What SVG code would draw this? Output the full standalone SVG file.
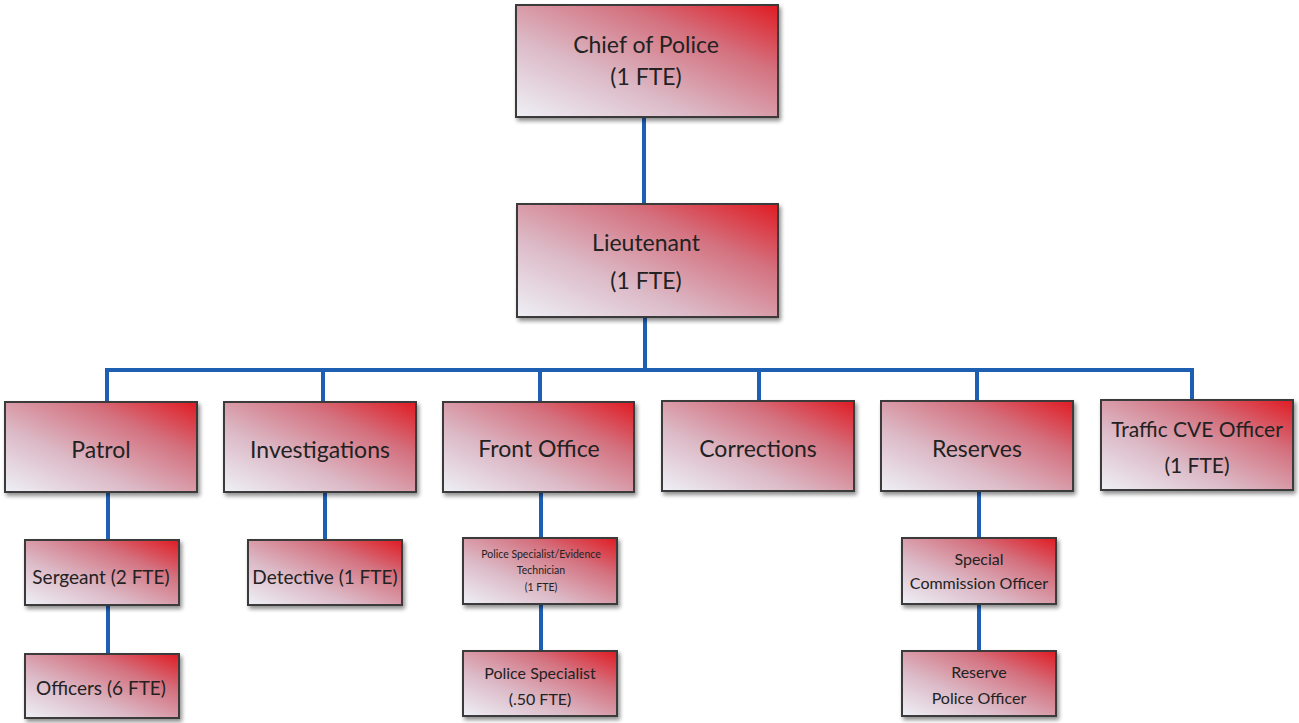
<svg xmlns="http://www.w3.org/2000/svg" width="1299" height="723" viewBox="0 0 1299 723">
  <defs>
    <linearGradient id="boxFill" x1="0" y1="1" x2="1" y2="0">
      <stop offset="0" stop-color="#eef0f6"/>
      <stop offset="0.35" stop-color="#dcbac7"/>
      <stop offset="0.7" stop-color="#d4717f"/>
      <stop offset="1" stop-color="#e01b22"/>
    </linearGradient>
    <filter id="shadow" x="-10%" y="-10%" width="125%" height="130%">
      <feGaussianBlur in="SourceAlpha" stdDeviation="2"/>
      <feOffset dx="2" dy="3" result="b"/>
      <feComponentTransfer><feFuncA type="linear" slope="0.45"/></feComponentTransfer>
      <feMerge><feMergeNode/><feMergeNode in="SourceGraphic"/></feMerge>
    </filter>
  </defs>
  <style>
    .box { fill: url(#boxFill); stroke: #3a3a3a; stroke-width: 2; filter: url(#shadow); }
    .t { font-family: Lato, "Open Sans", "Liberation Sans", sans-serif; fill: #222; text-anchor: middle; }
    .big { font-size: 23px; }
    .wide { font-size: 21px; }
    .mid { font-size: 19px; }
    .sm { font-size: 16px; }
    .tiny { font-size: 10.5px; }
    .link { stroke: #1e5fb4; stroke-width: 4; fill: none; stroke-linecap: square; }
  </style>
  <rect width="1299" height="723" fill="#ffffff"/>

  <!-- reporting lines -->
  <g id="connectors">
    <path class="link" d="M644 117 V204"/>
    <path class="link" d="M645 317 V370"/>
    <path class="link" d="M107 370 H1192"/>
    <path class="link" d="M107 370 V402 M323 370 V402 M540 370 V402 M759 370 V402 M977 370 V402 M1192 370 V400"/>
    <path class="link" d="M108 492 V540 M108 605 V654"/>
    <path class="link" d="M325 492 V540"/>
    <path class="link" d="M541 492 V538 M541 604 V651"/>
    <path class="link" d="M979 492 V538 M979 604 V651"/>
  </g>

  <g id="chief">
    <rect class="box" x="516" y="5" width="262" height="112"/>
    <text class="t big" x="646" y="53">Chief of Police</text>
    <text class="t big" x="646" y="85">(1 FTE)</text>
  </g>
  <g id="lieutenant">
    <rect class="box" x="517" y="204" width="261" height="113"/>
    <text class="t big" x="646" y="251">Lieutenant</text>
    <text class="t big" x="646" y="289">(1 FTE)</text>
  </g>

  <g id="patrol">
    <rect class="box" x="5" y="402" width="192" height="90"/>
    <text class="t big" x="101" y="458">Patrol</text>
  </g>
  <g id="investigations">
    <rect class="box" x="224" y="402" width="192" height="90"/>
    <text class="t big" x="320" y="458">Investigations</text>
  </g>
  <g id="front-office">
    <rect class="box" x="443" y="402" width="191" height="90"/>
    <text class="t big" x="539" y="457">Front Office</text>
  </g>
  <g id="corrections">
    <rect class="box" x="662" y="401" width="192" height="90"/>
    <text class="t big" x="758" y="457">Corrections</text>
  </g>
  <g id="reserves">
    <rect class="box" x="881" y="401" width="192" height="90"/>
    <text class="t big" x="977" y="457">Reserves</text>
  </g>
  <g id="traffic">
    <rect class="box" x="1101" y="400" width="192" height="90"/>
    <text class="t wide" x="1197" y="437">Traffic CVE Officer</text>
    <text class="t wide" x="1197" y="473">(1 FTE)</text>
  </g>

  <g id="sergeant">
    <rect class="box" x="25" y="540" width="154" height="65"/>
    <text class="t mid" x="101" y="584">Sergeant (2 FTE)</text>
  </g>
  <g id="officers">
    <rect class="box" x="25" y="654" width="154" height="64"/>
    <text class="t mid" x="101" y="695">Officers (6 FTE)</text>
  </g>
  <g id="detective">
    <rect class="box" x="248" y="540" width="154" height="65"/>
    <text class="t mid" x="325" y="584">Detective (1 FTE)</text>
  </g>
  <g id="evidence-tech">
    <rect class="box" x="463" y="538" width="154" height="66"/>
    <text class="t tiny" x="541" y="558">Police Specialist/Evidence</text>
    <text class="t tiny" x="541" y="574">Technician</text>
    <text class="t tiny" x="541" y="591">(1 FTE)</text>
  </g>
  <g id="police-specialist">
    <rect class="box" x="463" y="651" width="154" height="65"/>
    <text class="t sm" x="540" y="679">Police Specialist</text>
    <text class="t sm" x="540" y="705">(.50 FTE)</text>
  </g>
  <g id="special-commission">
    <rect class="box" x="902" y="538" width="154" height="66"/>
    <text class="t sm" x="979" y="565">Special</text>
    <text class="t sm" x="979" y="589">Commission Officer</text>
  </g>
  <g id="reserve-officer">
    <rect class="box" x="902" y="651" width="154" height="65"/>
    <text class="t sm" x="979" y="678">Reserve</text>
    <text class="t sm" x="979" y="704">Police Officer</text>
  </g>
</svg>
